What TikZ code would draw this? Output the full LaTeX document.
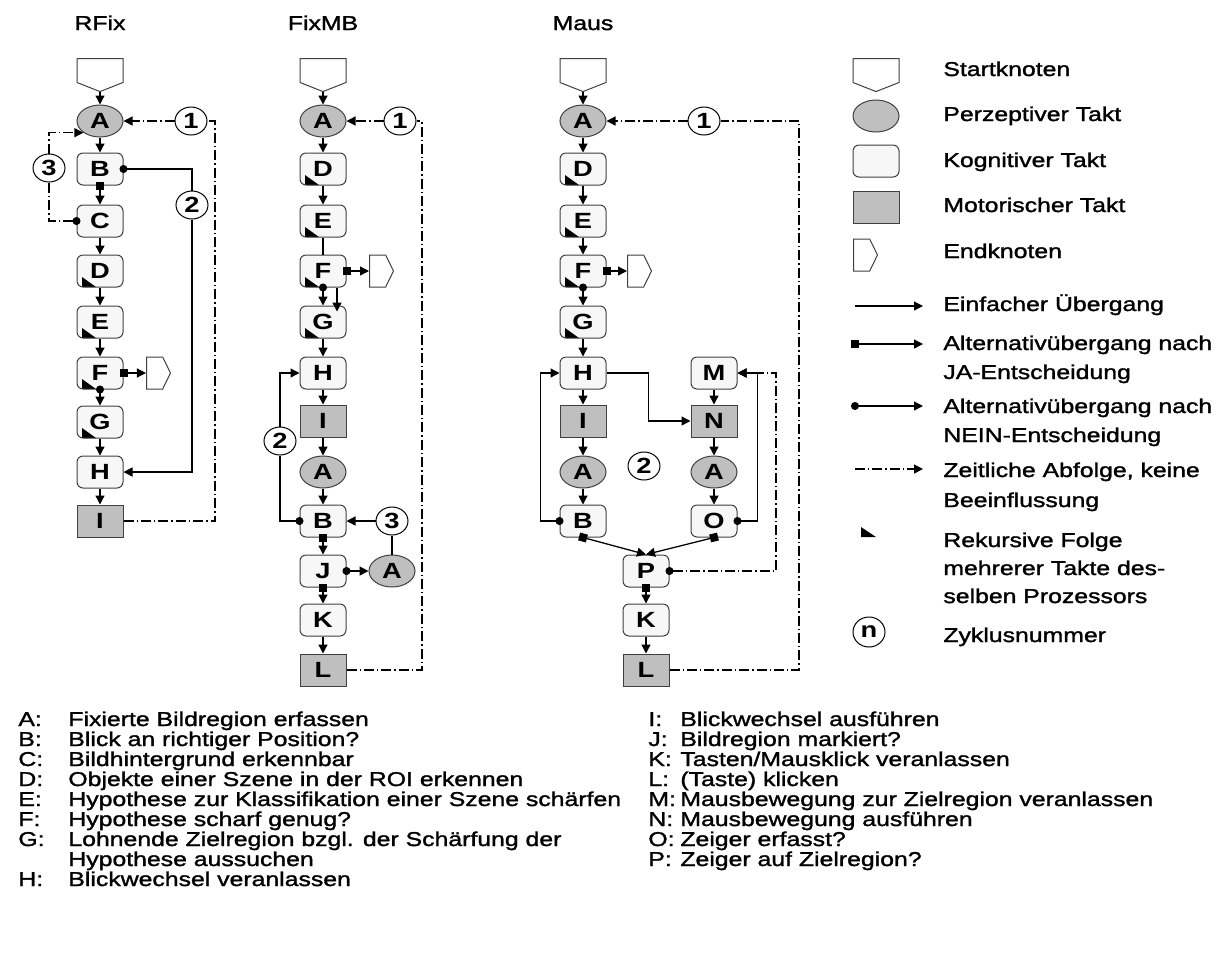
\documentclass[tikz,border=0pt]{standalone}
\usepackage{fontspec}
\setmainfont[FakeStretch=1.24,UprightFeatures={FakeBold=1.5}]{Liberation Sans}
\usetikzlibrary{arrows.meta,shapes.geometric,shapes.symbols}

\tikzset{
  >={Triangle[length=4.5pt,width=4.5pt]},
  every node/.style={font=\fontsize{10}{12}\selectfont},
  txt/.style={inner sep=0pt, anchor=base west},
  takt/.style={draw=black!75, line width=0.5pt, minimum width=23pt, minimum height=16pt,
    inner sep=0pt, font=\fontsize{11}{12}\selectfont\bfseries},
  kog/.style={takt, rectangle, rounded corners=3pt, fill=black!3},
  mot/.style={takt, rectangle, fill=black!25},
  perz/.style={takt, ellipse, fill=black!25},
  startk/.style={takt, signal, signal to=south, signal pointer angle=137, fill=white,
    minimum height=12pt, anchor=north},
  endk/.style={takt, signal, signal to=east, signal pointer angle=128, fill=white,
    minimum width=12pt, anchor=west},
  cyc/.style={takt, draw=black, ellipse, fill=white, minimum width=16pt, minimum height=14pt},
  rek/.style={path picture={\fill[black, sharp corners]
    ([xshift=2.5pt]path picture bounding box.south west)
    -- ++(0,5pt) -- ++(7pt,-5pt) -- cycle;}},
  linie/.style={line width=0.65pt},
  ja/.style={linie, {Square[length=4pt]}->, shorten <=-2pt},
  nein/.style={linie, {Circle[length=4pt]}->, shorten <=-2pt},
  neinlinie/.style={linie, {Circle[length=4pt]}-, shorten <=-2pt},
  zeit/.style={line width=0.65pt, dash pattern=on 5pt off 1.5pt on 0.7pt off 1.5pt},
}

\begin{document}
\begin{tikzpicture}[x=0.5pt,y=-0.5pt]
\useasboundingbox (0,0) rectangle (1228,960);

% Titel
\node[anchor=base] (tR) at (100,30) {RFix};
\node[anchor=base] (tF) at (323,30) {FixMB};
\node[anchor=base] (tM) at (583,30) {Maus};

% RFix
\node[startk] (rS) at (100,58) {};
\node[perz] (rA) at (100,121) {A};
\node[kog] (rB) at (100,169) {B};
\node[kog] (rC) at (100,221) {C};
\node[kog,rek] (rD) at (100,271) {D};
\node[kog,rek] (rE) at (100,322) {E};
\node[kog,rek] (rF) at (100,373) {F};
\node[kog,rek] (rG) at (100,422) {G};
\node[kog] (rH) at (100,472) {H};
\node[mot] (rI) at (100,521) {I};
\node[endk] (rEnd) at (146,373) {};
\node[cyc] (r1) at (191,121) {1};
\node[cyc] (r2) at (192,205) {2};
\node[cyc] (r3) at (49,168) {3};
\coordinate (r1c) at (215,121);

\draw[linie,->] (rS.south) -- (rA);
\draw[linie,->] (rA) -- (rB);
\draw[ja] (rB) -- (rC);
\draw[linie,->] (rC) -- (rD);
\draw[linie,->] (rD) -- (rE);
\draw[linie,->] (rE) -- (rF);
\draw[nein] (rF) -- (rG);
\draw[ja] (rF) -- (rEnd);
\draw[linie,->] (rG) -- (rH);
\draw[linie,->] (rH) -- (rI);
\draw[neinlinie] (rB.east) -| (r2);
\draw[linie,->] (r2) |- (rH.east);
\draw[zeit,{Circle[length=4pt]}-,shorten <=-2pt] (rC.west) -| (r3);
\draw[zeit,->] (r3) |- (rA.south west);
\draw[zeit] (rI.east) -| (r1c) -- (r1);
\draw[zeit,->] (r1) -- (rA);

% FixMB
\node[startk] (fS) at (323,58) {};
\node[perz] (fA) at (323,121) {A};
\node[kog,rek] (fD) at (323,169) {D};
\node[kog,rek] (fE) at (323,221) {E};
\node[kog,rek] (fF) at (323,271) {F};
\node[kog,rek] (fG) at (323,322) {G};
\node[kog] (fH) at (323,373) {H};
\node[mot] (fI) at (323,421) {I};
\node[perz] (fA2) at (323,472) {A};
\node[kog] (fB) at (323,521) {B};
\node[kog] (fJ) at (323,571) {J};
\node[kog] (fK) at (323,620) {K};
\node[mot] (fL) at (323,670) {L};
\node[perz] (fA3) at (392,571) {A};
\node[endk] (fEnd) at (369,271) {};
\node[cyc] (f1) at (400,121) {1};
\node[cyc] (f2) at (280,441) {2};
\node[cyc] (f3) at (392,521) {3};
\coordinate (f1c) at (422,121);

\draw[linie,->] (fS.south) -- (fA);
\draw[linie,->] (fA) -- (fD);
\draw[linie,->] (fD) -- (fE);
\draw[linie] (fE) -- (fF);
\draw[nein] (fF) -- (fG);
\draw[linie,->] ([xshift=7pt]fF.south) -- ([xshift=7pt,yshift=-3pt]fG.north);
\draw[ja] (fF) -- (fEnd);
\draw[linie,->] (fG) -- (fH);
\draw[linie,->] (fH) -- (fI);
\draw[zeit,->] (fI) -- (fA2);
\draw[linie,->] (fA2) -- (fB);
\draw[ja] (fB) -- (fJ);
\draw[ja] (fJ) -- (fK);
\draw[linie,->] (fK) -- (fL);
\draw[neinlinie] (fB.west) -| (f2);
\draw[linie,->] (f2) |- (fH.west);
\draw[linie] (fA3) -- (f3);
\draw[linie,->] (f3) -- (fB);
\draw[zeit,{Circle[length=4pt]}->,shorten <=-2pt] (fJ) -- (fA3);
\draw[zeit] (fL.east) -| (f1c) -- (f1);
\draw[zeit,->] (f1) -- (fA);

% Maus
\node[startk] (mS) at (583,58) {};
\node[perz] (mA) at (583,121) {A};
\node[kog,rek] (mD) at (583,169) {D};
\node[kog,rek] (mE) at (583,221) {E};
\node[kog,rek] (mF) at (583,271) {F};
\node[kog,rek] (mG) at (583,322) {G};
\node[kog] (mH) at (583,373) {H};
\node[mot] (mI) at (583,421) {I};
\node[perz] (mA2) at (583,472) {A};
\node[kog] (mB) at (583,521) {B};
\node[kog] (mM) at (714,373) {M};
\node[mot] (mN) at (714,421) {N};
\node[perz] (mA3) at (714,472) {A};
\node[kog] (mO) at (714,521) {O};
\node[kog] (mP) at (646,571) {P};
\node[kog] (mK) at (646,620) {K};
\node[mot] (mL) at (646,670) {L};
\node[endk] (mEnd) at (627,271) {};
\node[cyc] (m1) at (704,121) {1};
\node[cyc] (m2) at (644,466) {2};
\coordinate (m1c) at (799,121);
\coordinate (mPc) at (776,373);

\draw[linie,->] (mS.south) -- (mA);
\draw[linie,->] (mA) -- (mD);
\draw[linie,->] (mD) -- (mE);
\draw[linie,->] (mE) -- (mF);
\draw[nein] (mF) -- (mG);
\draw[ja] (mF) -- (mEnd);
\draw[linie,->] (mG) -- (mH);
\draw[linie,->] (mH) -- (mI);
\draw[zeit,->] (mI) -- (mA2);
\draw[linie,->] (mA2) -- (mB);
\draw[nein] (mB.west) -- ++(-19,0) |- (mH.west);
\draw[linie,->] (mH.east) -- ++(42,0) |- (mN.west);
\draw[linie,->] (mM) -- (mN);
\draw[zeit,->] (mN) -- (mA3);
\draw[linie,->] (mA3) -- (mO);
\draw[nein] (mO.east) -- ++(20,0) |- (mM.east);
\draw[ja] (mB.south) -- (mP.north);
\draw[ja] (mO.south) -- (mP.north);
\draw[zeit,{Circle[length=4pt]}->,shorten <=-2pt] (mP.east) -| (mPc) -- (mM.east);
\draw[ja] (mP) -- (mK);
\draw[linie,->] (mK) -- (mL);
\draw[zeit] (mL.east) -| (m1c) -- (m1);
\draw[zeit,->] (m1) -- (mA);

% Legende
\node[startk] (lS) at (876,58) {};
\node[perz] (lP) at (876,116) {};
\node[kog] (lK) at (876,161) {};
\node[mot] (lM) at (876,207) {};
\node[endk] (lE) at (853,255) {};
\coordinate (l1a) at (855,306); \coordinate (l1b) at (923,306);
\coordinate (l2a) at (855,344); \coordinate (l2b) at (923,344);
\coordinate (l3a) at (855,406); \coordinate (l3b) at (923,406);
\coordinate (l4a) at (855,469); \coordinate (l4b) at (923,469);
\draw[linie,->] (l1a) -- (l1b);
\draw[ja] (l2a) -- (l2b);
\draw[nein] (l3a) -- (l3b);
\draw[zeit,->] (l4a) -- (l4b);
\fill (861,527) -- (861,537) -- (876,537) -- cycle; % rekursiv
\node[cyc,minimum height=15pt] (lN) at (869,632) {n};

\node[txt] (x1) at (943,76) {Startknoten};
\node[txt] (x2) at (943,121) {Perzeptiver Takt};
\node[txt] (x3) at (943,167) {Kognitiver Takt};
\node[txt] (x4) at (943,212) {Motorischer Takt};
\node[txt] (x5) at (943,258) {Endknoten};
\node[txt] (x6) at (943,311) {Einfacher Übergang};
\node[txt] (x7) at (943,350) {Alternativübergang nach};
\node[txt] (x7b) at (943,379) {JA-Entscheidung};
\node[txt] (x8) at (943,413) {Alternativübergang nach};
\node[txt] (x8b) at (943,442) {NEIN-Entscheidung};
\node[txt] (x9) at (943,477) {Zeitliche Abfolge, keine};
\node[txt] (x9b) at (943,507) {Beeinflussung};
\node[txt] (x10) at (943,547) {Rekursive Folge};
\node[txt] (x10b) at (943,575) {mehrerer Takte des-};
\node[txt] (x10c) at (943,603) {selben Prozessors};
\node[txt] (x11) at (943,642) {Zyklusnummer};

% Erklaerungen
\node[txt] (kA) at (18,726) {\makebox[25pt][l]{A:}Fixierte Bildregion erfassen};
\node[txt] (kB) at (18,746) {\makebox[25pt][l]{B:}Blick an richtiger Position?};
\node[txt] (kC) at (18,766) {\makebox[25pt][l]{C:}Bildhintergrund erkennbar};
\node[txt] (kD) at (18,786) {\makebox[25pt][l]{D:}Objekte einer Szene in der ROI erkennen};
\node[txt] (kE) at (18,806) {\makebox[25pt][l]{E:}Hypothese zur Klassifikation einer Szene schärfen};
\node[txt] (kF) at (18,826) {\makebox[25pt][l]{F:}Hypothese scharf genug?};
\node[txt] (kG) at (18,846) {\makebox[25pt][l]{G:}Lohnende Zielregion bzgl. der Schärfung der};
\node[txt] (kG2) at (68,866) {Hypothese aussuchen};
\node[txt] (kH) at (18,886) {\makebox[25pt][l]{H:}Blickwechsel veranlassen};
\node[txt] (kI) at (648,726) {\makebox[16pt][l]{I:}Blickwechsel ausführen};
\node[txt] (kJ) at (648,746) {\makebox[16pt][l]{J:}Bildregion markiert?};
\node[txt] (kK) at (648,766) {\makebox[16pt][l]{K:}Tasten/Mausklick veranlassen};
\node[txt] (kL) at (648,786) {\makebox[16pt][l]{L:}(Taste) klicken};
\node[txt] (kM) at (648,806) {\makebox[16pt][l]{M:}Mausbewegung zur Zielregion veranlassen};
\node[txt] (kN) at (648,826) {\makebox[16pt][l]{N:}Mausbewegung ausführen};
\node[txt] (kO) at (648,846) {\makebox[16pt][l]{O:}Zeiger erfasst?};
\node[txt] (kP) at (648,866) {\makebox[16pt][l]{P:}Zeiger auf Zielregion?};
\end{tikzpicture}
\end{document}
